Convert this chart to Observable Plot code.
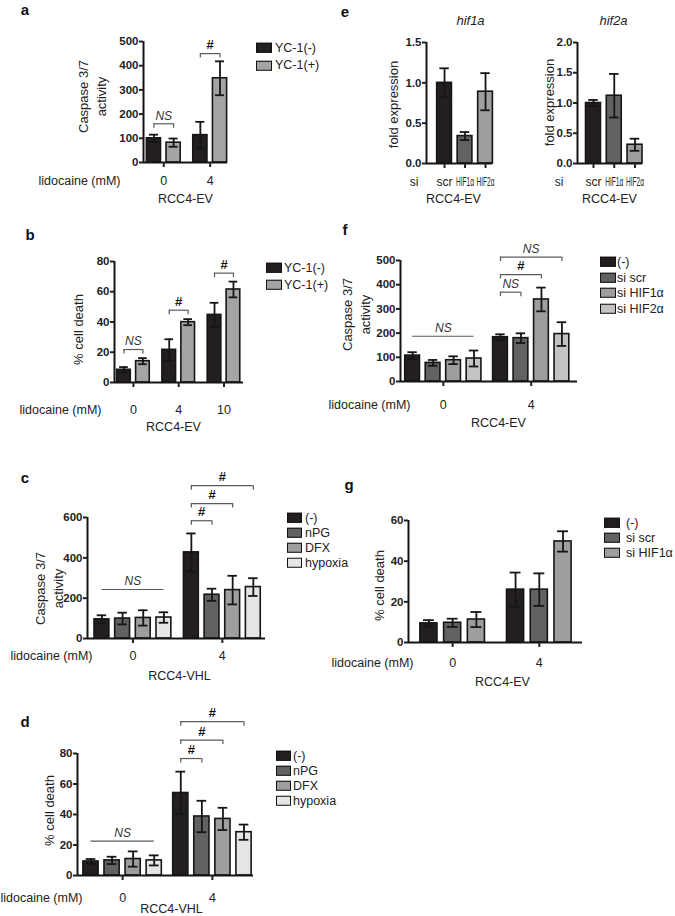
<!DOCTYPE html>
<html><head><meta charset="utf-8">
<script src="https://cdn.jsdelivr.net/npm/d3@7"></script>
<script src="https://cdn.jsdelivr.net/npm/@observablehq/plot@0.6"></script>
<style>
body{margin:0;background:#fff;}
#fig{position:relative;width:675px;height:916px;overflow:hidden;font-family:"Liberation Sans",Arial,Helvetica,sans-serif;color:#222;background:#fff;}
.letter{position:absolute;font-weight:bold;font-size:15px;transform:translate(-50%,-50%);color:#111;}
.leg{position:absolute;left:0;top:0;font-size:12.5px;}
.leg .row{position:absolute;display:flex;align-items:center;white-space:nowrap;transform:translateY(-50%);line-height:1;}
.sw{display:inline-block;box-sizing:border-box;border:1.6px solid #111;}
.chart{position:absolute;}
.chart svg{overflow:visible;max-width:none;}
.chart svg g[aria-label="y-axis tick label"]{font-weight:bold;}
</style></head><body><div id="fig"></div>
<script>
// ---------- DATA ----------
// panel a
const aDoses = ["0", "4"];
const aSeries = ["YC-1(-)", "YC-1(+)"];
const aMean = [[100, 82], [113, 348]];
const aErr = [[15, 17], [55, 70]];
const aTicks = [0, 100, 200, 300, 400, 500];
const aBrackets = [{g: 0, s1: 0, s2: 1, y: 160, label: "NS"}, {g: 1, s1: 0, s2: 1, y: 450, label: "#"}];
// panel b
const bDoses = ["0", "4", "10"];
const bSeries = ["YC-1(-)", "YC-1(+)"];
const bMean = [[8.4, 14.1], [21.6, 39.9], [44.7, 61.5]];
const bErr = [[1.8, 2.0], [7.0, 2.0], [8.0, 5.2]];
const bTicks = [0, 20, 40, 60, 80];
const bBrackets = [{g: 0, s1: 0, s2: 1, y: 21.8, label: "NS"}, {g: 1, s1: 0, s2: 1, y: 47.8, label: "#"}, {g: 2, s1: 0, s2: 1, y: 72.3, label: "#"}];
// panel c
const cDoses = ["0", "4"];
const cSeries = ["(-)", "nPG", "DFX", "hypoxia"];
const cMean = [[95, 99, 102, 104], [427, 217, 240, 255]];
const cErr = [[20, 29, 38, 26], [94, 30, 71, 44]];
const cTicks = [0, 200, 400, 600];
const cBrackets = [{g: 1, s1: 0, s2: 1, y: 584, label: "#"}, {g: 1, s1: 0, s2: 2, y: 669, label: "#"}, {g: 1, s1: 0, s2: 3, y: 758, label: "#"}];
const cLines = [{g: 0, s1: 0, s2: 3, y: 243, label: "NS"}];
// panel d
const dDoses = ["0", "4"];
const dSeries = ["(-)", "nPG", "DFX", "hypoxia"];
const dMean = [[9.2, 9.9, 10.8, 9.9], [54.1, 38.7, 37.1, 28.4]];
const dErr = [[1.6, 2.4, 5.0, 3.3], [14.0, 10.3, 7.3, 5.0]];
const dTicks = [0, 20, 40, 60, 80];
const dBrackets = [{g: 1, s1: 0, s2: 1, y: 76.7, label: "#"}, {g: 1, s1: 0, s2: 2, y: 88.8, label: "#"}, {g: 1, s1: 0, s2: 3, y: 100.9, label: "#"}];
const dLines = [{g: 0, s1: 0, s2: 3, y: 22.6, label: "NS"}];
// panel e
const eSi = ["scr", "HIF1α", "HIF2α"];
const eHif1aMean = [1.0, 0.34, 0.89];
const eHif1aErr = [0.18, 0.05, 0.23];
const eHif1aTicks = [0, 0.5, 1.0, 1.5];
const eHif2aMean = [1.0, 1.12, 0.31];
const eHif2aErr = [0.05, 0.36, 0.10];
const eHif2aTicks = [0, 0.5, 1.0, 1.5, 2.0];
// panel f
const fDoses = ["0", "4"];
const fSeries = ["(-)", "si scr", "si HIF1α", "si HIF2α"];
const fMean = [[107, 77, 88, 95], [183, 179, 339, 196]];
const fErr = [[14, 12, 16, 33], [12, 20, 49, 49]];
const fTicks = [0, 100, 200, 300, 400, 500];
const fBrackets = [{g: 1, s1: 0, s2: 1, y: 369, label: "NS"}, {g: 1, s1: 0, s2: 2, y: 442, label: "#"}, {g: 1, s1: 0, s2: 3, y: 514, label: "NS"}];
const fLines = [{g: 0, s1: 0, s2: 3, y: 187, label: "NS"}];
// panel g
const gDoses = ["0", "4"];
const gSeries = ["(-)", "si scr", "si HIF1α"];
const gMean = [[9.4, 9.7, 11.3], [26.0, 26.0, 49.7]];
const gErr = [[1.6, 2.0, 3.7], [8.4, 8.0, 5.0]];
const gTicks = [0, 20, 40, 60];

// ---------- STYLE ----------
const K = "#231f20", D = "#626262", M = "#9e9e9e", MA = "#a4a4a4", L = "#e5e5e5", L2 = "#c3c3c3";
const FONT = '"Liberation Sans", Arial, Helvetica, sans-serif';
const fig = document.getElementById("fig");

function barPanel(p) {
  const nS = p.mean[0].length;
  const posOf = (g, s) => g * (nS + p.gap) + s;
  const bars = [];
  p.mean.forEach((row, g) => row.forEach((v, s) => bars.push({
    pos: posOf(g, s), mean: v, err: p.err[g][s],
    color: p.colorByGroup ? p.colors[g] : p.colors[s]
  })));
  const lastPos = d3.max(bars, d => d.pos);
  const groupLabels = p.groups.map((t, g) => ({x: posOf(g, (p.mean[g].length - 1) / 2), t}));
  const H = p.y0 - p.yTop, W = p.x1 - p.x0;
  const ml = 70, mt = 70, mr = 10, mb = 50;
  const tickLen = 4.5 / H * p.ymax;
  const br = (p.brackets || []).map(b => ({x1: posOf(b.g, b.s1), x2: posOf(b.g, b.s2), y: b.y, label: b.label}));
  const ln = (p.lines || []).map(b => ({x1: posOf(b.g, b.s1), x2: posOf(b.g, b.s2), y: b.y, label: b.label}));
  const ann = br.concat(ln);
  const xmin = -p.padL;
  const marks = [
    Plot.rect(bars, {x1: d => d.pos - 0.36, x2: d => d.pos + 0.36, y1: 0, y2: "mean", fill: "color", stroke: "#151515", strokeWidth: 1.6}),
    Plot.ruleX(bars, {x: "pos", y1: d => d.mean - d.err, y2: d => d.mean + d.err, stroke: "#151515", strokeWidth: 1.8}),
    Plot.ruleY(bars, {y: d => d.mean + d.err, x1: d => d.pos - 0.23, x2: d => d.pos + 0.23, stroke: "#151515", strokeWidth: 1.8}),
    Plot.ruleY(bars, {y: d => d.mean - d.err, x1: d => d.pos - 0.23, x2: d => d.pos + 0.23, stroke: "#151515", strokeWidth: 1.8}),
    Plot.ruleX([xmin], {stroke: "#151515", strokeWidth: 2}),
    Plot.ruleY([0], {stroke: "#151515", strokeWidth: 2}),
    Plot.axisY(p.ticks, {tickSize: 4, tickPadding: 1, strokeWidth: 2, fontSize: 11.5, fontWeight: "bold", tickFormat: p.tickFormat || (d => String(d)), label: null}),
    Plot.axisX(groupLabels.map(d => d.x), {tickSize: 5, strokeWidth: 2, tickFormat: () => "", label: null}),
    Plot.text(groupLabels, {x: "x", y: 0, text: "t", dy: p.tickLabelY - p.y0, lineAnchor: "middle", fontSize: p.tickFont || 12.5}),
    Plot.text([p.leftLabel], {frameAnchor: "bottom-left", dx: p.leftLabelX - p.x0, dy: p.tickLabelY - p.y0, textAnchor: "end", lineAnchor: "middle", fontSize: p.tickFont || 12.5}),
    Plot.text([p.sub], {frameAnchor: "bottom", dx: p.subX - (p.x0 + p.x1) / 2, dy: p.subY - p.y0, textAnchor: "middle", lineAnchor: "middle", fontSize: 12.5}),
    Plot.text([p.yLabel], {frameAnchor: "left", rotate: -90, dx: p.yLabelX - p.x0, dy: p.yLabelY - (p.yTop + p.y0) / 2, textAnchor: "middle", lineAnchor: "middle", fontSize: 13, lineHeight: 1.38}),
    // significance annotations
    Plot.ruleY(ann, {y: "y", x1: "x1", x2: "x2", stroke: "#5a5a5a", strokeWidth: 1.2}),
    Plot.ruleX(br, {x: "x1", y1: d => d.y - tickLen, y2: "y", stroke: "#5a5a5a", strokeWidth: 1.2}),
    Plot.ruleX(br, {x: "x2", y1: d => d.y - tickLen, y2: "y", stroke: "#5a5a5a", strokeWidth: 1.2}),
    Plot.text(ann.filter(d => d.label === "#"), {x: d => (d.x1 + d.x2) / 2, y: "y", text: "label", dy: -8.5, lineAnchor: "middle", fontWeight: "bold", fontSize: 13, fill: "#111"}),
    Plot.text(ann.filter(d => d.label === "NS"), {x: d => (d.x1 + d.x2) / 2, y: "y", text: "label", dy: -8, lineAnchor: "middle", fontStyle: "italic", fontSize: 12, fill: "#333"})
  ];
  if (p.title) marks.push(Plot.text([p.title], {frameAnchor: "top", dx: p.titleX - (p.x0 + p.x1) / 2, dy: p.titleY - p.yTop, textAnchor: "middle", lineAnchor: "middle", fontStyle: "italic", fontSize: 13}));
  const chart = Plot.plot({
    width: W + ml + mr, height: H + mt + mb,
    marginLeft: ml, marginRight: mr, marginTop: mt, marginBottom: mb,
    x: {domain: [xmin, lastPos + p.padR], axis: null},
    y: {domain: [0, p.ymax], axis: null},
    style: {background: "transparent", overflow: "visible", color: "#222", fontFamily: FONT, fontSize: "12px"},
    marks
  });
  const div = document.createElement("div");
  div.className = "chart";
  div.style.left = (p.x0 - ml) + "px";
  div.style.top = (p.yTop - mt) + "px";
  div.style.width = (W + ml + mr) + "px";
  div.style.height = (H + mt + mb) + "px";
  div.append(chart);
  fig.append(div);
  // narrow crowded category labels (as in the original, where they are condensed)
  if (p.maxLabelWidth) {
    d3.select(chart).selectAll("text").filter(function() { return p.groups.includes(this.textContent); })
      .each(function() {
        if (this.getComputedTextLength() > p.maxLabelWidth) {
          this.setAttribute("textLength", p.maxLabelWidth);
          this.setAttribute("lengthAdjust", "spacingAndGlyphs");
        }
      });
  }
}

function legend(Lg, names, colors) {
  const el = document.createElement("div");
  el.className = "leg";
  names.forEach((n, i) => {
    const row = document.createElement("div");
    row.className = "row";
    row.style.left = Lg.x + "px";
    row.style.top = (Lg.y + i * Lg.step) + "px";
    const sw = document.createElement("span");
    sw.className = "sw";
    sw.style.width = Lg.w + "px";
    sw.style.height = Lg.h + "px";
    sw.style.background = colors[i];
    const t = document.createElement("span");
    t.textContent = n;
    t.style.marginLeft = (Lg.tx - Lg.x - Lg.w) + "px";
    row.append(sw, t);
    el.append(row);
  });
  fig.append(el);
}

function letter(t, x, y) {
  const el = document.createElement("div");
  el.className = "letter";
  el.textContent = t;
  el.style.left = x + "px";
  el.style.top = y + "px";
  fig.append(el);
}

// ---------- LAYOUT ----------
const capLabel = "Caspase 3/7\nactivity";
const deathLabel = "% cell death";

// a
barPanel({groups: aDoses, mean: aMean, err: aErr, colors: [K, MA], ymax: 500, ticks: aTicks,
  x0: 143, x1: 227, yTop: 41, y0: 162, padL: 0.53, padR: 0.38, gap: 0.36,
  tickLabelY: 180, leftLabel: "lidocaine (mM)", leftLabelX: 120, sub: "RCC4-EV", subX: 185, subY: 198,
  yLabel: capLabel, yLabelX: 91, yLabelY: 96, brackets: aBrackets});
legend({x: 256, y: 48, step: 17.3, w: 16, h: 10, tx: 275}, aSeries, [K, MA]);
letter("a", 25, 9);

// b
barPanel({groups: bDoses, mean: bMean, err: bErr, colors: [K, MA], ymax: 80, ticks: bTicks,
  x0: 114, x1: 243, yTop: 261, y0: 382, padL: 0.5, padR: 0.53, gap: 0.39,
  tickLabelY: 409, leftLabel: "lidocaine (mM)", leftLabelX: 101, sub: "RCC4-EV", subX: 173, subY: 426,
  yLabel: deathLabel, yLabelX: 77, yLabelY: 329, brackets: bBrackets});
legend({x: 266, y: 268, step: 17, w: 16, h: 10, tx: 284}, bSeries, [K, MA]);
letter("b", 30, 234);

// c
barPanel({groups: cDoses, mean: cMean, err: cErr, colors: [K, D, M, L], ymax: 600, ticks: cTicks,
  x0: 87, x1: 265, yTop: 517, y0: 638, padL: 0.7, padR: 0.59, gap: 0.33,
  tickLabelY: 655, leftLabel: "lidocaine (mM)", leftLabelX: 92, sub: "RCC4-VHL", subX: 179, subY: 675,
  yLabel: capLabel, yLabelX: 47.5, yLabelY: 588, brackets: cBrackets, lines: cLines});
legend({x: 287, y: 518, step: 15, w: 15, h: 10, tx: 305}, cSeries, [K, D, M, L]);
letter("c", 25, 477);

// d
barPanel({groups: dDoses, mean: dMean, err: dErr, colors: [K, D, M, L], ymax: 80, ticks: dTicks,
  x0: 77, x1: 253, yTop: 753, y0: 875, padL: 0.64, padR: 0.45, gap: 0.26,
  tickLabelY: 897, leftLabel: "lidocaine (mM)", leftLabelX: 82, sub: "RCC4-VHL", subX: 171, subY: 908,
  yLabel: deathLabel, yLabelX: 48, yLabelY: 810, brackets: dBrackets, lines: dLines});
legend({x: 276, y: 756, step: 15, w: 15, h: 10, tx: 293}, dSeries, [K, D, M, L]);
letter("d", 25, 721);

// e (hif1a)
barPanel({groups: eSi, mean: eHif1aMean.map(v => [v]), err: eHif1aErr.map(v => [v]), colors: [K, D, M], colorByGroup: true,
  ymax: 1.5, ticks: eHif1aTicks, tickFormat: d3.format(".1f"),
  x0: 426, x1: 492, yTop: 42, y0: 163, padL: 0.88, padR: 0.34, gap: 0,
  tickLabelY: 182, tickFont: 12, maxLabelWidth: 18, leftLabel: "si", leftLabelX: 418, sub: "RCC4-EV", subX: 453, subY: 198,
  yLabel: "fold expression", yLabelX: 392, yLabelY: 104, title: "hif1a", titleX: 470, titleY: 20});
// e (hif2a)
barPanel({groups: eSi, mean: eHif2aMean.map(v => [v]), err: eHif2aErr.map(v => [v]), colors: [K, D, M], colorByGroup: true,
  ymax: 2.0, ticks: eHif2aTicks, tickFormat: d3.format(".1f"),
  x0: 577, x1: 642, yTop: 42, y0: 163, padL: 0.77, padR: 0.36, gap: 0,
  tickLabelY: 182, tickFont: 12, maxLabelWidth: 18, leftLabel: "si", leftLabelX: 563, sub: "RCC4-EV", subX: 609, subY: 198,
  yLabel: "fold expression", yLabelX: 548, yLabelY: 102, title: "hif2a", titleX: 613, titleY: 20});
letter("e", 345, 11);

// f
barPanel({groups: fDoses, mean: fMean, err: fErr, colors: [K, D, M, L2], ymax: 500, ticks: fTicks,
  x0: 400, x1: 577, yTop: 260, y0: 381, padL: 0.59, padR: 0.76, gap: 0.29,
  tickLabelY: 404, leftLabel: "lidocaine (mM)", leftLabelX: 410, sub: "RCC4-EV", subX: 498, subY: 422,
  yLabel: capLabel, yLabelX: 355, yLabelY: 314, brackets: fBrackets, lines: fLines});
legend({x: 600, y: 262, step: 15.6, w: 16, h: 10, tx: 617}, fSeries, [K, D, M, L2]);
letter("f", 345, 229);

// g
barPanel({groups: gDoses, mean: gMean, err: gErr, colors: [K, D, M], ymax: 60, ticks: gTicks,
  x0: 408, x1: 582, yTop: 520, y0: 642, padL: 0.86, padR: 0.82, gap: 0.65,
  tickLabelY: 662, leftLabel: "lidocaine (mM)", leftLabelX: 413, sub: "RCC4-EV", subX: 502, subY: 681,
  yLabel: deathLabel, yLabelX: 378, yLabelY: 585});
legend({x: 604, y: 523, step: 15, w: 16, h: 10, tx: 626}, gSeries, [K, D, M]);
letter("g", 349, 484);
</script></body></html>
